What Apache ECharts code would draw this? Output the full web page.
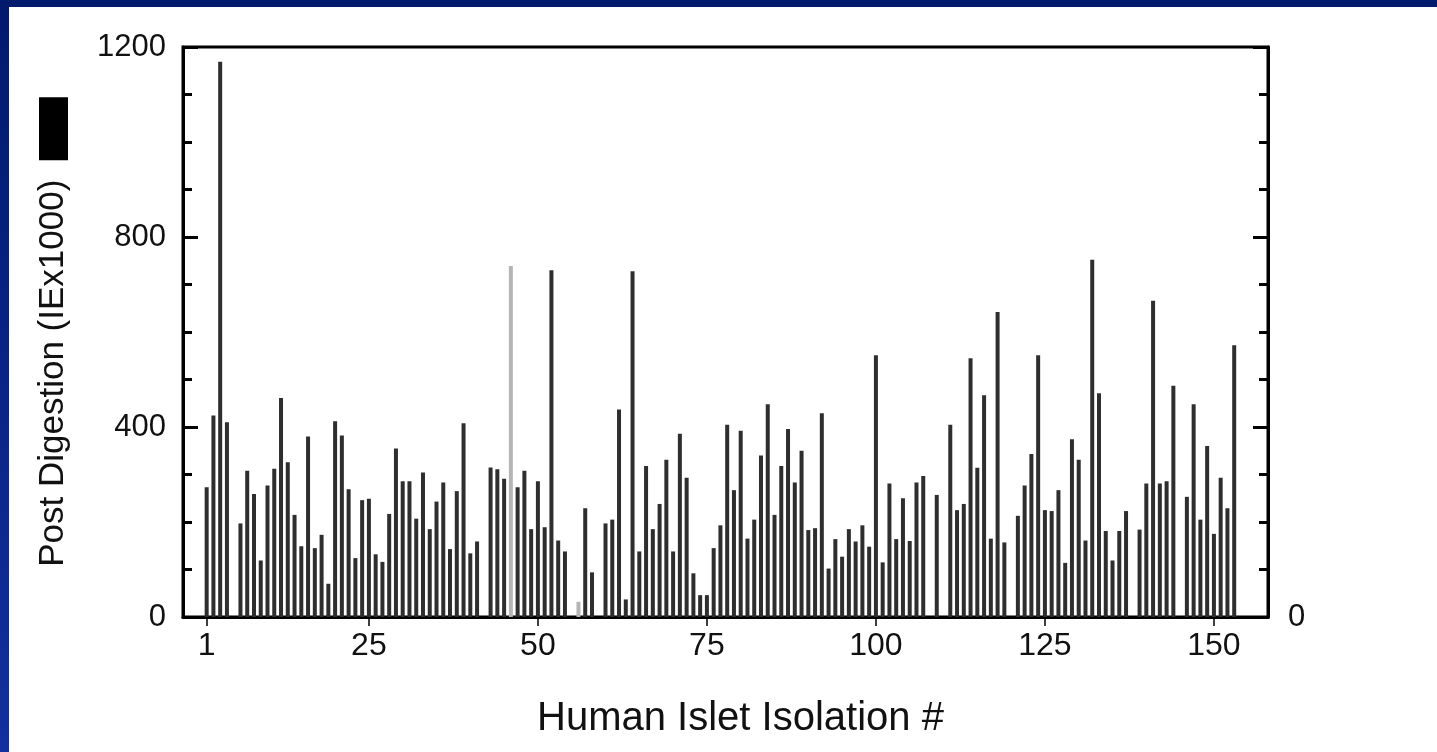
<!DOCTYPE html>
<html>
<head>
<meta charset="utf-8">
<title>Human Islet Isolation</title>
<script src="https://cdn.jsdelivr.net/npm/echarts@6/dist/echarts.min.js"></script>
<style>
  html, body { margin: 0; padding: 0; }
  body {
    width: 1437px; height: 752px; overflow: hidden; position: relative;
    background: linear-gradient(to bottom, #021a6c 0%, #0a2386 50%, #12309e 100%);
  }
  #panel { position: absolute; left: 9px; top: 7px; right: 0; bottom: 0; background: #fff; }
  #chart { position: absolute; left: 0; top: 0; width: 1437px; height: 752px; }
</style>
</head>
<body>
<div id="panel"></div>
<div id="chart"></div>
<script>
// isolation numbers on the x axis
var isolations = [];
for (var i = 1; i <= 153; i++) isolations.push(i);

// post digestion yield (IE x 1000), null = no bar
var postDigestion = [
  273, 424, 1169, 410, null, 197, 308, 259, 119, 277,
  312, 461, 326, 215, 149, 380, 145, 173, 70, 412,
  382, 269, 124, 246, 249, 132, 116, 217, 355, 286,
  286, 207, 304, 185, 243, 283, 143, 265, 408, 134,
  159, null, 315, 311, 291, 739, 273, 308, 185, 286,
  189, 730, 161, 138, null, 32, 229, 94, null, 197,
  205, 437, 37, 728, 138, 318, 185, 238, 331, 138,
  386, 293, 92, 46, 46, 145, 193, 405, 267, 392,
  165, 205, 340, 448, 215, 318, 396, 283, 350, 183,
  187, 429, 102, 164, 127, 185, 159, 193, 148, 551,
  115, 281, 164, 250, 160, 283, 297, null, 257, null,
  405, 225, 238, 545, 314, 467, 165, 642, 157, null,
  213, 277, 343, 551, 225, 223, 267, 114, 374, 331,
  161, 752, 471, 181, 119, 181, 223, null, 184, 281,
  666, 281, 286, 487, null, 253, 448, 205, 360, 175,
  293, 229, 572
];

// faint scan bars
var faintBars = [46, 56];

var xTickLabels = [1, 25, 50, 75, 100, 125, 150];
var yTickLabels = [0, 400, 800, 1200];
var rightTickLabels = [0];

var barData = isolations.map(function (n, idx) {
  var v = postDigestion[idx];
  if (v === null) return null;
  var item = { value: [n, v] };
  if (faintBars.indexOf(n) >= 0) item.itemStyle = { color: '#b5b5b5' };
  return item;
}).filter(function (d) { return d !== null; });

var chart = echarts.init(document.getElementById('chart'));
var font = 'Liberation Sans, Arial, Helvetica, sans-serif';
var plain = function (v) { return String(v); };

var option = {
  animation: false,
  backgroundColor: 'transparent',
  grid: {
    left: 183, right: 169, top: 47, bottom: 135,
    show: true, borderColor: '#000', borderWidth: 3, backgroundColor: 'transparent'
  },
  xAxis: {
    type: 'value', min: -2.5, max: 158,
    name: 'Human Islet Isolation #',
    nameLocation: 'middle', nameGap: 82,
    nameTextStyle: { fontFamily: font, fontSize: 40, color: '#111', padding: [0, 0, 0, 30] },
    axisLine: { onZero: false, lineStyle: { color: '#000', width: 3 } },
    axisTick: { customValues: xTickLabels, length: 9, lineStyle: { color: '#000', width: 1.5 } },
    axisLabel: { customValues: xTickLabels, formatter: plain, fontFamily: font, fontSize: 32, color: '#111', margin: 13 },
    splitLine: { show: false }
  },
  yAxis: [{
    type: 'value', min: 0, max: 1200, interval: 400, position: 'left',
    name: 'Post Digestion (IEx1000)  {box|}',
    nameLocation: 'middle', nameRotate: 90, nameGap: 112,
    nameTextStyle: {
      fontFamily: font, fontSize: 35, color: '#111',
      rich: { box: { backgroundColor: '#000', width: 63, height: 29 } }
    },
    axisLine: { onZero: false, lineStyle: { color: '#000', width: 3 } },
    axisTick: { inside: true, length: 15, lineStyle: { color: '#000', width: 3 } },
    minorTick: { show: true, splitNumber: 4, length: 9, lineStyle: { color: '#000', width: 3 } },
    axisLabel: { customValues: yTickLabels, formatter: plain, fontFamily: font, fontSize: 31, color: '#111', margin: 17 },
    splitLine: { show: false }
  }, {
    type: 'value', min: 0, max: 1200, interval: 400, position: 'right',
    axisLine: { show: true, onZero: false, lineStyle: { color: '#000', width: 3 } },
    axisTick: { inside: true, length: 15, lineStyle: { color: '#000', width: 3 } },
    minorTick: { show: true, splitNumber: 4, length: 9, lineStyle: { color: '#000', width: 3 } },
    axisLabel: { customValues: rightTickLabels, formatter: plain, fontFamily: font, fontSize: 31, color: '#111', margin: 20 },
    splitLine: { show: false }
  }],
  series: [{
    name: 'Post Digestion',
    type: 'bar',
    yAxisIndex: 0,
    barWidth: 4,
    itemStyle: { color: '#2e2e2e' },
    data: barData
  }]
};

chart.setOption(option);
</script>
</body>
</html>
